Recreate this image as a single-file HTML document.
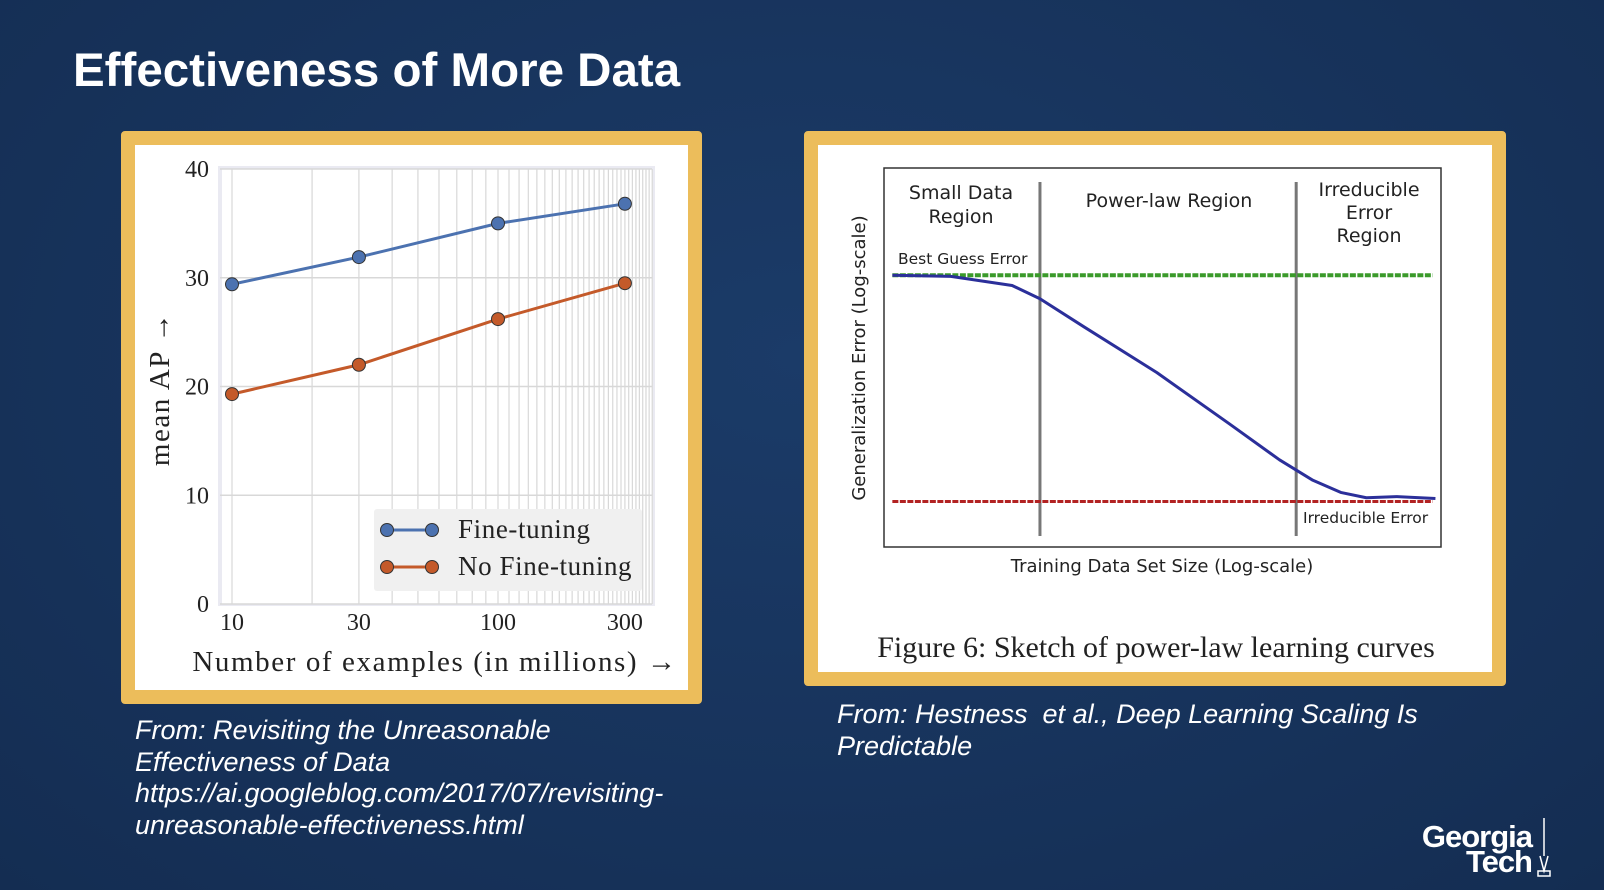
<!DOCTYPE html>
<html><head><meta charset="utf-8">
<style>
body{margin:0;width:1604px;height:890px;overflow:hidden;background:#17345e;font-family:"Liberation Sans",sans-serif;}
.abs{position:absolute;}
.cap{color:#fff;font-style:italic;font-size:27px;line-height:31.5px;}
</style></head>
<body>
<div class="abs" style="left:0;top:0;width:1604px;height:890px;background:radial-gradient(ellipse at 50% 40%,#1b3b68,#142d52);"></div>
<div class="abs" style="left:73px;top:43px;color:#fff;font-weight:bold;font-size:47.5px;">Effectiveness of More Data</div>

<div class="abs" style="left:121px;top:131px;width:553px;height:545px;border:14px solid #ecbd5b;border-radius:4px;background:#fff;"></div>
<svg class="abs" style="left:136px;top:146px" width="552" height="545" id="c1"></svg>

<div class="abs" style="left:804px;top:131px;width:674px;height:527px;border:14px solid #ecbd5b;border-radius:4px;background:#fff;"></div>
<svg class="abs" style="left:818px;top:146px" width="674" height="526" id="c2"></svg>

<div class="abs cap" style="left:135px;top:715px;">From: Revisiting the Unreasonable<br>Effectiveness of Data<br>https://ai.googleblog.com/2017/07/revisiting-<br>unreasonable-effectiveness.html</div>
<div class="abs cap" style="left:837px;top:699px;">From: Hestness&nbsp; et al., Deep Learning Scaling Is<br>Predictable</div>

<div class="abs" style="left:1392px;top:824px;color:#fff;font-weight:bold;font-size:31px;line-height:25px;text-align:right;width:140px;letter-spacing:-1px;">Georgia<br>Tech</div>
<svg class="abs" style="left:1534px;top:816px" width="20" height="62"><path d="M10 2 L10 40 M6 40 L10 55 L14 40 M4 55 L16 55 L16 60 L4 60Z" stroke="#fff" fill="none" stroke-width="1.5"/></svg>

<script>
const NS='http://www.w3.org/2000/svg';
function mk(p,t,a,txt){const e=document.createElementNS(NS,t);for(const k in a)e.setAttribute(k,a[k]);if(txt!==undefined)e.textContent=txt;p.appendChild(e);return e;}
// ---- chart 1 data ----
const xCats=[10,30,100,300];
const fineTuning=[29.4,31.9,35.0,36.8];
const noFineTuning=[19.3,22.0,26.2,29.5];
const yTicks=[0,10,20,30,40];
const xTickLabels=['10','30','100','300'];
const c1=document.getElementById('c1');
const X=v=>96+266*Math.log10(v/10);
const Y=v=>458-10.875*v;
let r=mk(c1,'rect',{x:82,y:20,width:437,height:440,fill:'#eaeaf2'});

mk(c1,'rect',{x:86,y:23,width:430,height:435,fill:'#fff'});
for(let v=9;v<=420;v+=(v<10?1:10)){const x=X(v);if(x<84||x>517)continue;
 const l=mk(c1,'line',{x1:x,x2:x,y1:23,y2:458,stroke:'#d8d8d8','stroke-width':1.2});
 }
yTicks.forEach(t=>{const l=mk(c1,'line',{x1:84,x2:516,y1:Y(t),y2:Y(t),stroke:'#d8d8d8','stroke-width':1.5});
 
 const tx=mk(c1,'text',{x:73,y:Y(t)+8,'text-anchor':'end','font-family':'Liberation Serif,serif','font-size':24,fill:'#222'},String(t));
 });
xCats.forEach((c,i)=>{const tx=mk(c1,'text',{x:X(c),y:484,'text-anchor':'middle','font-family':'Liberation Serif,serif','font-size':24,fill:'#222'},xTickLabels[i]);
 });
function series(vals,col,name){const pts=vals.map((v,i)=>X(xCats[i])+','+Y(v)).join(' ');
 const pl=mk(c1,'polyline',{points:pts,fill:'none',stroke:col,'stroke-width':3});
 
 vals.forEach((v,i)=>{const c=mk(c1,'circle',{cx:X(xCats[i]),cy:Y(v),r:6.5,fill:col,stroke:'#333','stroke-width':1});
 });}
series(fineTuning,'#4c72b0','fine-tuning');
series(noFineTuning,'#c45a2a','no-fine-tuning');
const lg=mk(c1,'g',{});
mk(lg,'rect',{x:238,y:363,width:268,height:82,fill:'#f0f0f0',rx:3});
[['#4c72b0','Fine-tuning',384],['#c45a2a','No Fine-tuning',421]].forEach(e=>{
 mk(lg,'line',{x1:251,x2:296,y1:e[2],y2:e[2],stroke:e[0],'stroke-width':3});
 mk(lg,'circle',{cx:251,cy:e[2],r:6.5,fill:e[0],stroke:'#333','stroke-width':1});
 mk(lg,'circle',{cx:296,cy:e[2],r:6.5,fill:e[0],stroke:'#333','stroke-width':1});
 const t=mk(lg,'text',{x:322,y:e[2]+8,'font-family':'Liberation Serif,serif','font-size':27,'letter-spacing':0.6,fill:'#222'},e[1]);
 });
let t=mk(c1,'text',{x:0,y:0,transform:'translate(33,243) rotate(-90)','text-anchor':'middle','font-family':'Liberation Serif,serif','font-size':29,'letter-spacing':1.5,fill:'#222'},'mean AP →');

t=mk(c1,'text',{x:299,y:525,'text-anchor':'middle','font-family':'Liberation Serif,serif','font-size':29,'letter-spacing':1.6,fill:'#222'},'Number of examples (in millions) →');


// ---- chart 2 data (sketch curve, x/y in 0..1 of plot box) ----
const curveX=[0.015,0.12,0.23,0.28,0.36,0.49,0.62,0.71,0.77,0.82,0.866,0.92,0.99];
const curveY=[0.283,0.286,0.31,0.345,0.42,0.54,0.675,0.77,0.824,0.856,0.87,0.867,0.872];
const bestGuess=0.283, irreducible=0.88;
const regionBounds=[0.28,0.74];
const c2=document.getElementById('c2');
const bx=66,by=22,bw=557,bh=379;
const PX=v=>bx+v*bw, PY=v=>by+v*bh;
r=mk(c2,'rect',{x:bx,y:by,width:bw,height:bh,fill:'none',stroke:'#333','stroke-width':1.5});

regionBounds.forEach(b=>{const l=mk(c2,'line',{x1:PX(b),x2:PX(b),y1:by+14,y2:by+368,stroke:'#777','stroke-width':3});
 });
let l=mk(c2,'line',{x1:PX(0.015),x2:PX(0.985),y1:PY(bestGuess),y2:PY(bestGuess),stroke:'#3a9a2a','stroke-width':4,'stroke-dasharray':'6 1.5'});

l=mk(c2,'line',{x1:PX(0.015),x2:PX(0.985),y1:PY(irreducible),y2:PY(irreducible),stroke:'#b22222','stroke-width':3,'stroke-dasharray':'6 1.5'});

const cp=mk(c2,'polyline',{points:curveX.map((x,i)=>PX(x)+','+PY(curveY[i])).join(' '),fill:'none',stroke:'#2b2f9a','stroke-width':3,'stroke-linejoin':'round'});

const labs=[['Small Data',53],['Region',77],['Power-law Region',61],['Irreducible',50],['Error',73],['Region',96]];
const lx=[143,143,351,551,551,551];
labs.forEach((a,i)=>{const tt=mk(c2,'text',{x:lx[i],y:a[1],'text-anchor':'middle','font-family':'DejaVu Sans,sans-serif','font-size':19,fill:'#222'},a[0]);
 });
t=mk(c2,'text',{x:80,y:118,'font-family':'DejaVu Sans,sans-serif','font-size':15.5,fill:'#222'},'Best Guess Error');

t=mk(c2,'text',{x:485,y:377,'font-family':'DejaVu Sans,sans-serif','font-size':15.5,fill:'#222'},'Irreducible Error');

t=mk(c2,'text',{x:0,y:0,transform:'translate(47,212) rotate(-90)','text-anchor':'middle','font-family':'DejaVu Sans,sans-serif','font-size':18,fill:'#222'},'Generalization Error  (Log-scale)');

t=mk(c2,'text',{x:344,y:426,'text-anchor':'middle','font-family':'DejaVu Sans,sans-serif','font-size':18,fill:'#222'},'Training Data Set Size (Log-scale)');

t=mk(c2,'text',{x:338,y:511,'text-anchor':'middle','font-family':'Liberation Serif,serif','font-size':30,fill:'#222'},'Figure 6: Sketch of power-law learning curves');

</script>
</body></html>
